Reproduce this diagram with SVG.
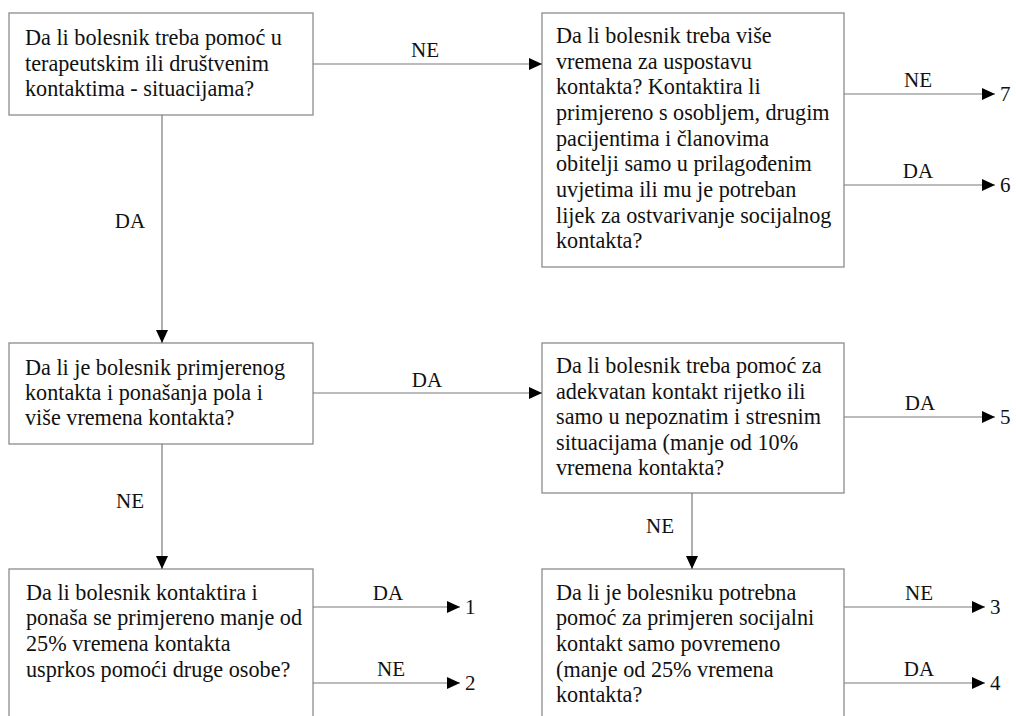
<svg xmlns="http://www.w3.org/2000/svg" width="1016" height="716" viewBox="0 0 1016 716">
<style>
.box{fill:#fff;stroke:#8c8c8c;stroke-width:1.3}
.t,.lbl,.out{font-family:'Liberation Serif','Times New Roman',serif;fill:#111}
.t{font-size:22.2px}
.lbl,.out{font-size:21px}
.lbl{text-anchor:middle}
.c{stroke:#7a7a7a;stroke-width:1.2;fill:none}
</style>
<defs>
<marker id="ah" markerUnits="userSpaceOnUse" markerWidth="14" markerHeight="14" refX="13" refY="7" orient="auto">
<path d="M0,1 L13,7 L0,13 z" fill="#000"/>
</marker>
</defs>
<rect width="1016" height="716" fill="#fff"/>
<g id="n1">
<rect class="box" x="9" y="13" width="304" height="102"/>
<text class="t" x="25" y="45">Da li bolesnik treba pomoć u</text>
<text class="t" x="25" y="71">terapeutskim ili društvenim</text>
<text class="t" x="25" y="96">kontaktima - situacijama?</text>
</g>
<g id="n2">
<rect class="box" x="542" y="13" width="302" height="254"/>
<text class="t" x="556" y="43">Da li bolesnik treba više</text>
<text class="t" x="556" y="69">vremena za uspostavu</text>
<text class="t" x="556" y="94">kontakta? Kontaktira li</text>
<text class="t" x="556" y="120">primjereno s osobljem, drugim</text>
<text class="t" x="556" y="146">pacijentima i članovima</text>
<text class="t" x="556" y="171">obitelji samo u prilagođenim</text>
<text class="t" x="556" y="197">uvjetima ili mu je potreban</text>
<text class="t" x="556" y="223">lijek za ostvarivanje socijalnog</text>
<text class="t" x="556" y="248">kontakta?</text>
</g>
<g id="n3">
<rect class="box" x="9" y="343" width="304" height="101"/>
<text class="t" x="25" y="375">Da li je bolesnik primjerenog</text>
<text class="t" x="25" y="400">kontakta i ponašanja pola i</text>
<text class="t" x="25" y="425">više vremena kontakta?</text>
</g>
<g id="n4">
<rect class="box" x="542" y="343" width="302" height="150"/>
<text class="t" x="556" y="373">Da li bolesnik treba pomoć za</text>
<text class="t" x="556" y="399">adekvatan kontakt rijetko ili</text>
<text class="t" x="556" y="424">samo u nepoznatim i stresnim</text>
<text class="t" x="556" y="450">situacijama (manje od 10%</text>
<text class="t" x="556" y="475">vremena kontakta?</text>
</g>
<g id="n5">
<rect class="box" x="9" y="569" width="304" height="160"/>
<text class="t" x="26" y="600">Da li bolesnik kontaktira i</text>
<text class="t" x="26" y="625">ponaša se primjereno manje od</text>
<text class="t" x="26" y="651">25% vremena kontakta</text>
<text class="t" x="26" y="677">usprkos pomoći druge osobe?</text>
</g>
<g id="n6">
<rect class="box" x="542" y="569" width="302" height="160"/>
<text class="t" x="556" y="600">Da li je bolesniku potrebna</text>
<text class="t" x="556" y="625">pomoć za primjeren socijalni</text>
<text class="t" x="556" y="651">kontakt samo povremeno</text>
<text class="t" x="556" y="677">(manje od 25% vremena</text>
<text class="t" x="556" y="702">kontakta?</text>
</g>
<g id="connectors">
<line class="c" x1="313" y1="64" x2="542" y2="64" marker-end="url(#ah)"/>
<text class="lbl" x="425" y="57">NE</text>
<line class="c" x1="162" y1="115" x2="162" y2="343" marker-end="url(#ah)"/>
<text class="lbl" x="130" y="228">DA</text>
<line class="c" x1="313" y1="393" x2="542" y2="393" marker-end="url(#ah)"/>
<text class="lbl" x="427" y="387">DA</text>
<line class="c" x1="162" y1="444" x2="162" y2="569" marker-end="url(#ah)"/>
<text class="lbl" x="130" y="508">NE</text>
<line class="c" x1="692" y1="493" x2="692" y2="569" marker-end="url(#ah)"/>
<text class="lbl" x="660" y="533">NE</text>
<line class="c" x1="844" y1="94" x2="995" y2="94" marker-end="url(#ah)"/>
<text class="lbl" x="918" y="87">NE</text>
<text class="out" x="1000" y="101">7</text>
<line class="c" x1="844" y1="185" x2="995" y2="185" marker-end="url(#ah)"/>
<text class="lbl" x="918" y="178">DA</text>
<text class="out" x="1000" y="192">6</text>
<line class="c" x1="844" y1="417" x2="995" y2="417" marker-end="url(#ah)"/>
<text class="lbl" x="920" y="410">DA</text>
<text class="out" x="1000" y="424">5</text>
<line class="c" x1="313" y1="607" x2="460" y2="607" marker-end="url(#ah)"/>
<text class="lbl" x="388" y="600">DA</text>
<text class="out" x="465" y="614">1</text>
<line class="c" x1="313" y1="683" x2="460" y2="683" marker-end="url(#ah)"/>
<text class="lbl" x="391" y="676">NE</text>
<text class="out" x="465" y="690">2</text>
<line class="c" x1="844" y1="607" x2="985" y2="607" marker-end="url(#ah)"/>
<text class="lbl" x="919" y="600">NE</text>
<text class="out" x="990" y="614">3</text>
<line class="c" x1="844" y1="683" x2="985" y2="683" marker-end="url(#ah)"/>
<text class="lbl" x="919" y="676">DA</text>
<text class="out" x="990" y="690">4</text>
</g>
</svg>
